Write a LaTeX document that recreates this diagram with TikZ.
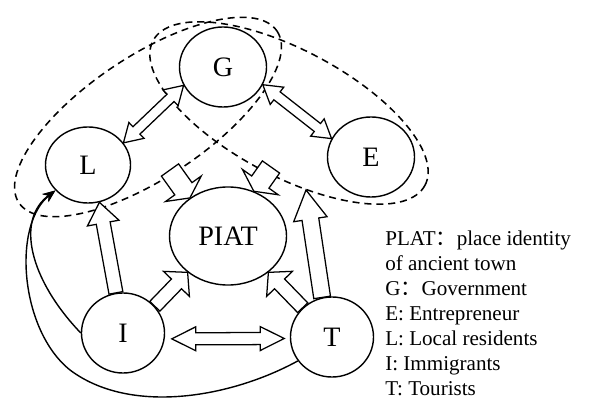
\documentclass[tikz,border=0pt]{standalone}
\usepackage{fontspec}
\setmainfont{Liberation Serif}
\newfontfamily\cjk{Noto Sans CJK SC}
\usepackage{tikz}
\usetikzlibrary{shapes.geometric, arrows.meta, calc}
\tikzstyle{actor} = [ellipse, draw=black, fill=white, line width=1pt, inner sep=0pt, font=\fontsize{20}{24}\selectfont]
\tikzstyle{group} = [line width=1.1pt, dash pattern=on 5pt off 3.5pt]
\tikzstyle{fat} = [draw=black, fill=white, line width=0.9pt, line join=miter]
\tikzstyle{link} = [line width=1pt, -{Stealth[length=9pt, width=7pt]}]
\tikzstyle{legend} = [align=left, inner sep=0pt, font=\fontsize{15}{17.7}\selectfont]

% hollow block arrow: start, tip, shaft half width, head half width, head length
\newcommand{\fatarrow}[5]{%
  \coordinate (hb) at ($(#2)!#5!(#1)$);
  \path[fat] ($(#1)!#3!90:(#2)$) -- ($(hb)!#3!90:(#2)$) -- ($(hb)!#4!90:(#2)$) -- (#2)
    -- ($(hb)!#4!-90:(#2)$) -- ($(hb)!#3!-90:(#2)$) -- ($(#1)!#3!-90:(#2)$) -- cycle;}
% hollow block arrow with two heads
\newcommand{\fatarrowboth}[5]{%
  \coordinate (ha) at ($(#1)!#5!(#2)$);
  \coordinate (hb) at ($(#2)!#5!(#1)$);
  \path[fat] (#1) -- ($(ha)!#4!90:(#2)$) -- ($(ha)!#3!90:(#2)$) -- ($(hb)!#3!90:(#2)$)
    -- ($(hb)!#4!90:(#2)$) -- (#2) -- ($(hb)!#4!-90:(#2)$) -- ($(hb)!#3!-90:(#2)$)
    -- ($(ha)!#3!-90:(#2)$) -- ($(ha)!#4!-90:(#2)$) -- cycle;}

\begin{document}
\begin{tikzpicture}[x=0.025cm, y=-0.025cm]
\useasboundingbox (0,0) rectangle (592,400);

% Groups
\draw[group, rotate around={33.6:(148,117)}] (148,117) ellipse (155 and 61);
\draw[group, rotate around={-28:(289,113)}] (289,113) ellipse (154 and 63);

% Actors
\node (gov) [actor, minimum width=2.175cm, minimum height=2cm] at (223,67) {G};
\node (loc) [actor, minimum width=2.125cm, minimum height=1.9cm] at (88,165) {L};
\node (ent) [actor, minimum width=2.175cm, minimum height=2cm] at (371,157) {E};
\node (piat) [actor, minimum width=2.925cm, minimum height=2.45cm] at (228,236) {PIAT};
\node (imm) [actor, minimum width=2.075cm, minimum height=2cm] at (123,333) {I};
\node (tou) [actor, minimum width=2.075cm, minimum height=2cm] at (332,337) {T};

% Free ends
\coordinate (glside) at (170,170);
\coordinate (geside) at (271,167);
\coordinate (geline) at (306,190);
\coordinate (imright) at ([xshift=5pt]imm.-8);
\coordinate (toleft) at ([xshift=-4pt]tou.182);

% Block arrows
\fatarrowboth{loc.32}{gov.205}{3.6pt}{7.8pt}{12.8pt}
\fatarrowboth{gov.-24}{ent.155}{3.6pt}{7.8pt}{12.8pt}
\fatarrowboth{imright}{toleft}{4.3pt}{8.5pt}{17pt}
\fatarrow{imm.100}{loc.-73}{5pt}{11.4pt}{15pt}
\fatarrow{tou.104}{geline}{6pt}{12pt}{21pt}
\fatarrow{imm.40}{piat.222}{5pt}{12.8pt}{11.4pt}
\fatarrow{tou.135}{piat.-42}{5pt}{12.8pt}{11.4pt}
\fatarrow{glside}{piat.135}{7.5pt}{15.6pt}{8pt}
\fatarrow{geside}{piat.60}{7.5pt}{15.6pt}{8pt}

% Links to L
\draw[link] (imm.west) .. controls (30,280) and (15,220) .. (loc.218);
\draw[link] (tou.215) .. controls (230,398) and (130,415) .. (70,370)
  .. controls (20,330) and (12,225) .. (loc.218);

% Key
\node (key) [legend, anchor=base west] at (385,395) {PLAT{\cjk ：}place identity\\
of ancient town\\
G{\cjk ：}Government\\
E: Entrepreneur\\
L: Local residents\\
I: Immigrants\\
T: Tourists};

\end{tikzpicture}
\end{document}
